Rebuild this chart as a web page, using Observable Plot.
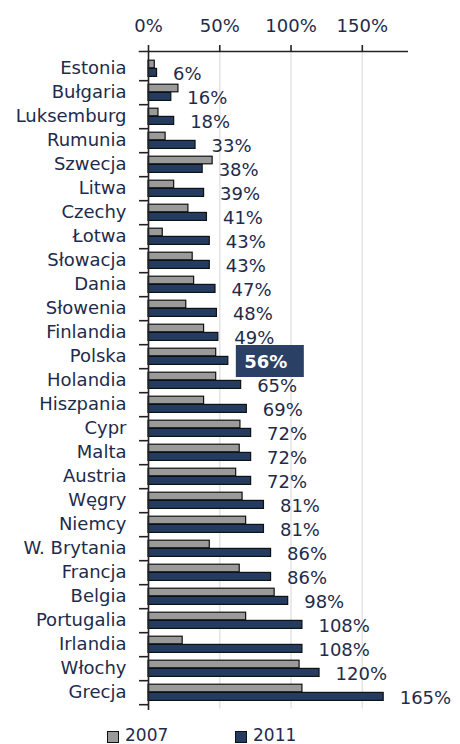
<!DOCTYPE html>
<html>
<head>
<meta charset="utf-8">
<script src="https://cdn.jsdelivr.net/npm/d3@7"></script>
<script src="https://cdn.jsdelivr.net/npm/@observablehq/plot@0.6"></script>
<style>
  html, body { margin: 0; padding: 0; background: #fff; }
  #wrap { width: 460px; height: 744px; overflow: hidden; position: relative; }
  #legend { position: absolute; left: 0; top: 727px; width: 460px; height: 16px;
    font-family: "DejaVu Sans", sans-serif; font-size: 17px; line-height: 16px; color: #1e2b4a; }
  .item { position: absolute; top: 0; display: flex; align-items: center; height: 16px; }
  .sw { width: 10px; height: 10px; border: 1px solid #111; margin-right: 6px; margin-top: 3px; }
</style>
</head>
<body>
<div id="wrap">
  <div id="chart"></div>
  <div id="legend"></div>
</div>
<script>
const countries = ["Estonia","Bułgaria","Luksemburg","Rumunia","Szwecja","Litwa","Czechy","Łotwa","Słowacja","Dania","Słowenia","Finlandia","Polska","Holandia","Hiszpania","Cypr","Malta","Austria","Węgry","Niemcy","W. Brytania","Francja","Belgia","Portugalia","Irlandia","Włochy","Grecja"];
const v2007 = [4.4,21,7,12,45,18,28,10,31,32,26.5,39,47.5,47.5,39,64.5,64,61.5,66,68.5,43,64,88.5,68.5,24,106,108];
const v2011 = [6,16,18,33,38,39,41,43,43,47,48,49,56,65,69,72,72,72,81,81,86,86,98,108,108,120,165];
const xTicks = [0,50,100,150];
const series = ["2007","2011"];
const highlight = "Polska";

const colors = {"2007": "#9a9a9a", "2011": "#243c60"};
const textColor = "#1e2b4a";

const rows = countries.map((c, i) => ({country: c, a: v2007[i], b: v2011[i]}));
const bandH = 658.6 / countries.length;

const chart = Plot.plot({
  width: 460,
  height: 727,
  marginTop: 51,
  marginBottom: 18.4,
  marginLeft: 148,
  marginRight: 53.3,
  style: {fontFamily: "DejaVu Sans, sans-serif", fontSize: "18px", color: textColor, background: "#fff"},
  x: {domain: [0, 181.5], axis: null},
  y: {domain: countries, padding: 0, axis: null},
  marks: [
    Plot.gridX(xTicks.filter(d => d > 0), {stroke: "#e4e4e4", strokeOpacity: 1, strokeWidth: 1.5}),
    Plot.barX(rows, {y: "country", x1: 0, x2: "a", fill: colors["2007"], stroke: "#111", strokeWidth: 1.2, insetTop: 4.2, insetBottom: 12.2}),
    Plot.barX(rows, {y: "country", x1: 0, x2: "b", fill: colors["2011"], stroke: "#111", strokeWidth: 1.2, insetTop: 12.4, insetBottom: 3.6}),
    Plot.frame({anchor: "top", stroke: "#222", strokeWidth: 1.6, insetLeft: -9}),
    Plot.frame({anchor: "left", stroke: "#222", strokeWidth: 1.6}),
    Plot.ruleY(countries, {y: d => d, x1: 0, x2: 0, insetLeft: -9, dy: bandH / 2, stroke: "#222", strokeWidth: 1.6}),
    Plot.axisX({anchor: "top", ticks: xTicks, tickFormat: d => d + "%", tickSize: 7, tickPadding: 13, label: null, stroke: "#222", strokeWidth: 1.6, fill: textColor, fontSize: 18}),
    Plot.axisY({anchor: "left", tickSize: 0, tickPadding: 22, label: null, fill: textColor, fontSize: 18}),
    Plot.text(rows.filter(d => d.country !== highlight), {y: "country", x: "b", text: d => d.b + "%", textAnchor: "start", dx: 16, dy: 6, fill: textColor, fontSize: 18}),
    Plot.barX(rows.filter(d => d.country === highlight), {y: "country", x1: "b", x2: "b", insetLeft: 8, insetRight: -76, insetTop: 1, insetBottom: -9, fill: "#2a4064"}),
    Plot.text(rows.filter(d => d.country === highlight), {y: "country", x: "b", text: d => d.b + "%", textAnchor: "start", dx: 16, dy: 6, fill: "#fff", fontWeight: "bold", fontSize: 18})
  ]
});
document.getElementById("chart").appendChild(chart);

const legend = document.getElementById("legend");
const legendX = [107, 235];
series.forEach((s, i) => {
  const it = document.createElement("div");
  it.className = "item";
  it.style.left = legendX[i] + "px";
  const sw = document.createElement("span");
  sw.className = "sw";
  sw.style.background = colors[s];
  const t = document.createElement("span");
  t.textContent = s;
  it.appendChild(sw); it.appendChild(t);
  legend.appendChild(it);
});
</script>
</body>
</html>
